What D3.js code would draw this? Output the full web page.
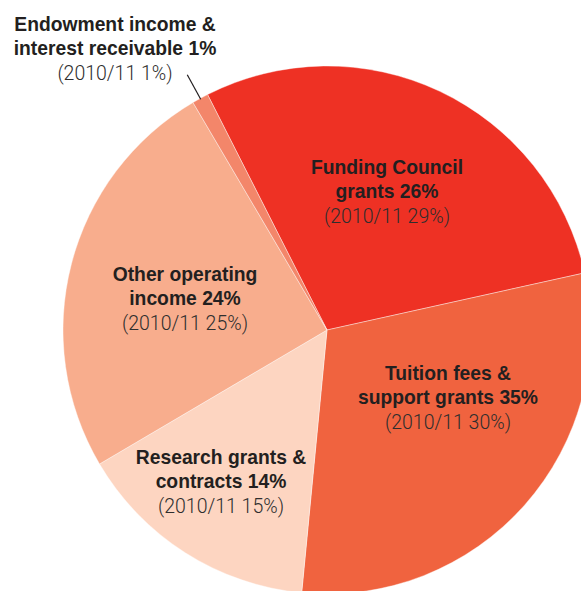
<!DOCTYPE html>
<html>
<head>
<meta charset="utf-8">
<script src="https://cdn.jsdelivr.net/npm/d3@7"></script>
<style>
  html, body { margin: 0; padding: 0; background: #ffffff; }
  svg { display: block; }
  .lbl { font-family: "Liberation Sans", Arial, sans-serif; font-weight: bold; font-size: 19.3px; fill: #231f20; }
  .sub { font-family: Roboto, "Liberation Sans", sans-serif; font-weight: 300; font-size: 19.5px; fill: #2e2e2e; }
</style>
</head>
<body>
<script>
// Sources of income, share of total (%)
const categories = [
  "Funding Council grants",
  "Tuition fees & support grants",
  "Research grants & contracts",
  "Other operating income",
  "Endowment income & interest receivable"
];
const currentShare = [26, 35, 14, 24, 1];
const priorShare = [29, 30, 15, 25, 1];
const priorYear = "2010/11";
const sliceColors = ["#ee3124", "#f0633f", "#fdd5c1", "#f8ad8d", "#f3866a"];

// Label lines per category (bold lines, then the prior-year line)
const labelLines = [
  ["Funding Council", "grants 26%"],
  ["Tuition fees &", "support grants 35%"],
  ["Research grants &", "contracts 14%"],
  ["Other operating", "income 24%"],
  ["Endowment income &", "interest receivable 1%"]
];
const labelPos = [[387, 174], [448, 380], [221, 464], [185, 281], [115, 31]];

const W = 581, H = 591;
const cx = 327, cy = 330, R = 264;
const toRad = Math.PI / 180;

const svg = d3.select("body").append("svg").attr("width", W).attr("height", H);

const data = categories.map((c, i) => ({ name: c, value: priorShare[i], now: currentShare[i], i }));

const pie = d3.pie()
  .value(d => d.value)
  .sort(null)
  .startAngle(-26.9 * toRad)
  .endAngle((360 - 26.9) * toRad);

const arc = d3.arc().innerRadius(0).outerRadius(R);

const g = svg.append("g").attr("transform", `translate(${cx},${cy})`);
g.selectAll("path")
  .data(pie(data))
  .join("path")
  .attr("d", arc)
  .attr("fill", d => sliceColors[d.data.i])
  .attr("stroke", "#ffffff")
  .attr("stroke-width", 0.4);

// Leader line for the thin endowment slice
const endo = pie(data)[4];
const mid = (endo.startAngle + endo.endAngle) / 2;
const p1 = [cx + Math.sin(mid) * (R - 1), cy - Math.cos(mid) * (R - 1)];
const p0 = [cx + Math.sin(mid) * (R + 27), cy - Math.cos(mid) * (R + 27)];
svg.append("line")
  .attr("x1", p0[0]).attr("y1", p0[1])
  .attr("x2", p1[0]).attr("y2", p1[1])
  .attr("stroke", "#231f20").attr("stroke-width", 1.2);

// Text labels
labelLines.forEach((lines, i) => {
  const [x, y] = labelPos[i];
  const t = svg.append("g");
  lines.forEach((ln, k) => {
    t.append("text").attr("class", "lbl")
      .attr("x", x).attr("y", y + k * 24)
      .attr("text-anchor", "middle").text(ln);
  });
  t.append("text").attr("class", "sub")
    .attr("x", x).attr("y", y + lines.length * 24.5)
    .attr("text-anchor", "middle")
    .text(`(${priorYear} ${priorShare[i]}%)`);
});
</script>
</body>
</html>
